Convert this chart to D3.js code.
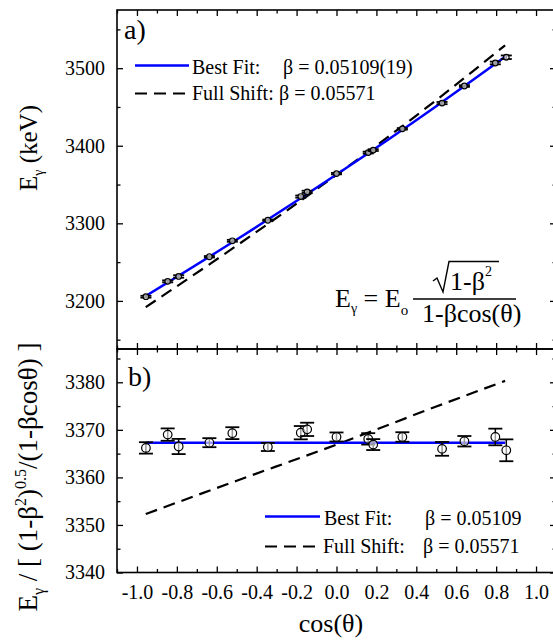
<!DOCTYPE html>
<html>
<head>
<meta charset="utf-8">
<script src="https://cdn.jsdelivr.net/npm/d3@7"></script>
<style>
  body { margin: 0; background: #fff; }
  svg text { font-family: "Liberation Serif", "Times New Roman", Times, "DejaVu Serif", serif; }
</style>
</head>
<body>
<div id="chart"></div>
<script>
// measured points
const cosTheta = [-0.955, -0.846, -0.791, -0.637, -0.522, -0.344, -0.179, -0.147, 0.0, 0.159, 0.184, 0.33, 0.529, 0.641, 0.796, 0.851];
const energy = [3205.4, 3225.2, 3231.5, 3256.9, 3277.5, 3304.0, 3334.5, 3340.6, 3364.1, 3391.2, 3394.4, 3421.8, 3455.0, 3477.0, 3506.7, 3514.1];
const corrected = [3366.2, 3369.0, 3366.5, 3367.3, 3369.3, 3366.4, 3369.4, 3370.1, 3368.5, 3368.1, 3366.9, 3368.5, 3366.0, 3367.6, 3368.5, 3365.7];
const errors = [1.2, 1.3, 1.6, 0.95, 1.25, 0.85, 1.4, 1.4, 0.95, 1.2, 1.15, 1.0, 1.45, 1.1, 1.75, 2.3];

// model curves
const curveCos = [-0.956, -0.5, 0, 0.5, 0.845];
const fitTop = [3206.3, 3279.1, 3362.9, 3451.0, 3514.6];
const shiftTop = [3192.0, 3271.3, 3362.5, 3458.8, 3529.5];
const fitBottom = [3367.3, 3367.3, 3367.3, 3367.3, 3367.3];
const shiftBottom = [3352.3, 3359.3, 3366.9, 3374.9, 3380.3];

const xTicks = [-1.0, -0.8, -0.6, -0.4, -0.2, 0.0, 0.2, 0.4, 0.6, 0.8, 1.0];
const topTicks = [3200, 3300, 3400, 3500];
const bottomTicks = [3340, 3350, 3360, 3370, 3380];

const width = 553, height = 641;
const left = 117, right = 556;
const topY0 = 10, topY1 = 349, botY1 = 572.5;
const font = '"Liberation Serif", "Times New Roman", Times, "DejaVu Serif", serif';

const svg = d3.select("#chart").append("svg")
    .attr("width", width)
    .attr("height", height)
    .attr("font-family", font);

const x = d3.scaleLinear().domain([-1.1, 1.1]).range([left, right]);
const yTop = d3.scaleLinear().domain([3138, 3575]).range([topY1, topY0]);
const yBot = d3.scaleLinear().domain([3340, 3387]).range([botY1, topY1]);

const xMinor = d3.range(-11, 12).map(d => d / 10);

function drawFrame(y, y0, y1, majors, minors, showX) {
    const g = svg.append("g");

    // left axis with labels
    g.append("g")
        .attr("transform", `translate(${left},0)`)
        .call(d3.axisLeft(y).tickValues(majors).tickFormat(d3.format("d")).tickSize(-6).tickSizeOuter(0).tickPadding(12))
        .call(a => a.select(".domain").remove())
        .selectAll("text")
        .attr("font-size", 20)
        .attr("font-family", font)
        .attr("fill", "#000");
    g.append("g")
        .attr("transform", `translate(${left},0)`)
        .call(d3.axisLeft(y).tickValues(minors).tickFormat("").tickSize(-3.5).tickSizeOuter(0))
        .call(a => a.select(".domain").remove());

    // right axis, ticks only
    g.append("g")
        .attr("transform", `translate(${right},0)`)
        .call(d3.axisRight(y).tickValues(majors).tickFormat("").tickSize(-6).tickSizeOuter(0))
        .call(a => a.select(".domain").remove());
    g.append("g")
        .attr("transform", `translate(${right},0)`)
        .call(d3.axisRight(y).tickValues(minors).tickFormat("").tickSize(-3.5).tickSizeOuter(0))
        .call(a => a.select(".domain").remove());

    // top and bottom ticks
    const minorX = xMinor.filter(v => !xTicks.some(t => Math.abs(t - v) < 1e-6));
    g.append("g")
        .attr("transform", `translate(0,${y0})`)
        .call(d3.axisTop(x).tickValues(xTicks).tickFormat("").tickSize(-6).tickSizeOuter(0))
        .call(a => a.select(".domain").remove());
    g.append("g")
        .attr("transform", `translate(0,${y0})`)
        .call(d3.axisTop(x).tickValues(minorX).tickFormat("").tickSize(-3.5).tickSizeOuter(0))
        .call(a => a.select(".domain").remove());
    const bx = g.append("g")
        .attr("transform", `translate(0,${y1})`)
        .call(d3.axisBottom(x).tickValues(xTicks).tickFormat(showX ? d3.format(".1f") : "").tickSize(-6).tickSizeOuter(0).tickPadding(12))
        .call(a => a.select(".domain").remove());
    bx.selectAll("text")
        .attr("font-size", 20)
        .attr("font-family", font)
        .attr("fill", "#000")
        .text(d => showX ? d3.format(".1f")(d).replace("−", "-") : "");
    g.append("g")
        .attr("transform", `translate(0,${y1})`)
        .call(d3.axisBottom(x).tickValues(minorX).tickFormat("").tickSize(-3.5).tickSizeOuter(0))
        .call(a => a.select(".domain").remove());

    g.selectAll(".tick line").attr("stroke", "#000").attr("stroke-width", 1.3);

    g.append("rect")
        .attr("x", left).attr("y", y0)
        .attr("width", right - left).attr("height", y1 - y0)
        .attr("fill", "none").attr("stroke", "#000").attr("stroke-width", 1.6);
}

drawFrame(yTop, topY0, topY1, topTicks, [3150, 3250, 3350, 3450, 3550], false);
drawFrame(yBot, topY1, botY1, bottomTicks, [3345, 3355, 3365, 3375, 3385], true);

// curves
function drawCurve(y, values, color, dash) {
    const line = d3.line()
        .x((d, i) => x(curveCos[i]))
        .y(d => y(d))
        .curve(d3.curveMonotoneX);
    svg.append("path")
        .datum(values)
        .attr("d", line)
        .attr("fill", "none")
        .attr("stroke", color)
        .attr("stroke-width", dash ? 2.2 : 2.5)
        .attr("stroke-dasharray", dash ? "12,7" : null);
}

drawCurve(yTop, shiftTop, "#000", true);
drawCurve(yTop, fitTop, "#0000ff", false);
drawCurve(yBot, shiftBottom, "#000", true);
drawCurve(yBot, fitBottom, "#0000ff", false);

// data points with error bars
function drawPoints(y, values, r, cap) {
    const g = svg.append("g");
    const pts = g.selectAll("g.pt")
        .data(values.map((v, i) => ({ c: cosTheta[i], v: v, e: errors[i] })))
        .enter().append("g");
    pts.append("line")
        .attr("x1", d => x(d.c)).attr("x2", d => x(d.c))
        .attr("y1", d => y(d.v - d.e)).attr("y2", d => y(d.v + d.e))
        .attr("stroke", "#000").attr("stroke-width", 1.5);
    pts.append("line")
        .attr("x1", d => x(d.c) - cap).attr("x2", d => x(d.c) + cap)
        .attr("y1", d => y(d.v + d.e)).attr("y2", d => y(d.v + d.e))
        .attr("stroke", "#000").attr("stroke-width", 1.8);
    pts.append("line")
        .attr("x1", d => x(d.c) - cap).attr("x2", d => x(d.c) + cap)
        .attr("y1", d => y(d.v - d.e)).attr("y2", d => y(d.v - d.e))
        .attr("stroke", "#000").attr("stroke-width", 1.8);
    pts.append("circle")
        .attr("cx", d => x(d.c)).attr("cy", d => y(d.v))
        .attr("r", r)
        .attr("fill", "#fff").attr("fill-opacity", 0.6)
        .attr("stroke", "#000").attr("stroke-width", 1.2);
}

drawPoints(yTop, energy, 2.8, 5.5);
drawPoints(yBot, corrected, 4.3, 7);

// panel labels
svg.append("text").attr("x", 124).attr("y", 39)
    .attr("font-size", 28).text("a)");
svg.append("text").attr("x", 128).attr("y", 386)
    .attr("font-size", 28).text("b)");

// legends
function legend(x0, x1, tx, bx, yLine, yText, label, beta, color, dash) {
    svg.append("line")
        .attr("x1", x0).attr("x2", x1)
        .attr("y1", yLine).attr("y2", yLine)
        .attr("stroke", color)
        .attr("stroke-width", dash ? 2.2 : 2.5)
        .attr("stroke-dasharray", dash ? "12,7" : null);
    svg.append("text").attr("x", tx).attr("y", yText)
        .attr("font-size", 20).text(label);
    svg.append("text").attr("x", bx).attr("y", yText)
        .attr("font-size", 20).text(beta);
}

legend(135, 189, 192, 283, 65.5, 74, "Best Fit:", "β = 0.05109(19)", "#0000ff", false);
legend(135, 189, 192, 279, 93.5, 100, "Full Shift:", "β = 0.05571", "#000", true);
legend(265, 320, 324, 425, 516.5, 525, "Best Fit:", "β = 0.05109", "#0000ff", false);
legend(265, 320, 323, 423, 546.5, 553, "Full Shift:", "β = 0.05571", "#000", true);

// formula
const fx = svg.append("text").attr("x", 335).attr("y", 307).attr("font-size", 26);
fx.append("tspan").text("E");
fx.append("tspan").attr("dy", 6).attr("font-size", 14).text("γ");
fx.append("tspan").attr("dy", -6).text(" = E");
fx.append("tspan").attr("dy", 8).attr("font-size", 15).text("o");

svg.append("line")
    .attr("x1", 413).attr("x2", 516).attr("y1", 299).attr("y2", 299)
    .attr("stroke", "#000").attr("stroke-width", 1.4);
svg.append("path")
    .attr("d", "M433,281 L437,278 L443,292 L449,261.5 L499,261.5")
    .attr("fill", "none").attr("stroke", "#000").attr("stroke-width", 1.4);
const num = svg.append("text").attr("x", 450).attr("y", 290).attr("font-size", 26);
num.append("tspan").text("1-β");
num.append("tspan").attr("dy", -14).attr("font-size", 14).text("2");
svg.append("text").attr("x", 422).attr("y", 321.5).attr("font-size", 26).text("1-βcos(θ)");

// axis titles
const t1 = svg.append("text")
    .attr("transform", "translate(37,148) rotate(-90)")
    .attr("text-anchor", "middle")
    .attr("font-size", 25);
t1.append("tspan").text("E");
t1.append("tspan").attr("dy", 6).attr("font-size", 14).text("γ");
t1.append("tspan").attr("dy", -6).text(" (keV)");

const t2 = svg.append("text")
    .attr("transform", "translate(37,477) rotate(-90)")
    .attr("text-anchor", "middle")
    .attr("font-size", 27);
t2.append("tspan").text("E");
t2.append("tspan").attr("dy", 7).attr("font-size", 16).text("γ");
t2.append("tspan").attr("dy", -7).text(" / [ (1-β");
t2.append("tspan").attr("dy", -11).attr("font-size", 16).text("2");
t2.append("tspan").attr("dy", 11).text(")");
t2.append("tspan").attr("dy", -11).attr("font-size", 16).text("0.5");
t2.append("tspan").attr("dy", 11).text("/(1-βcosθ) ]");

svg.append("text")
    .attr("x", 331).attr("y", 632)
    .attr("text-anchor", "middle")
    .attr("font-size", 26)
    .text("cos(θ)");
</script>
</body>
</html>
